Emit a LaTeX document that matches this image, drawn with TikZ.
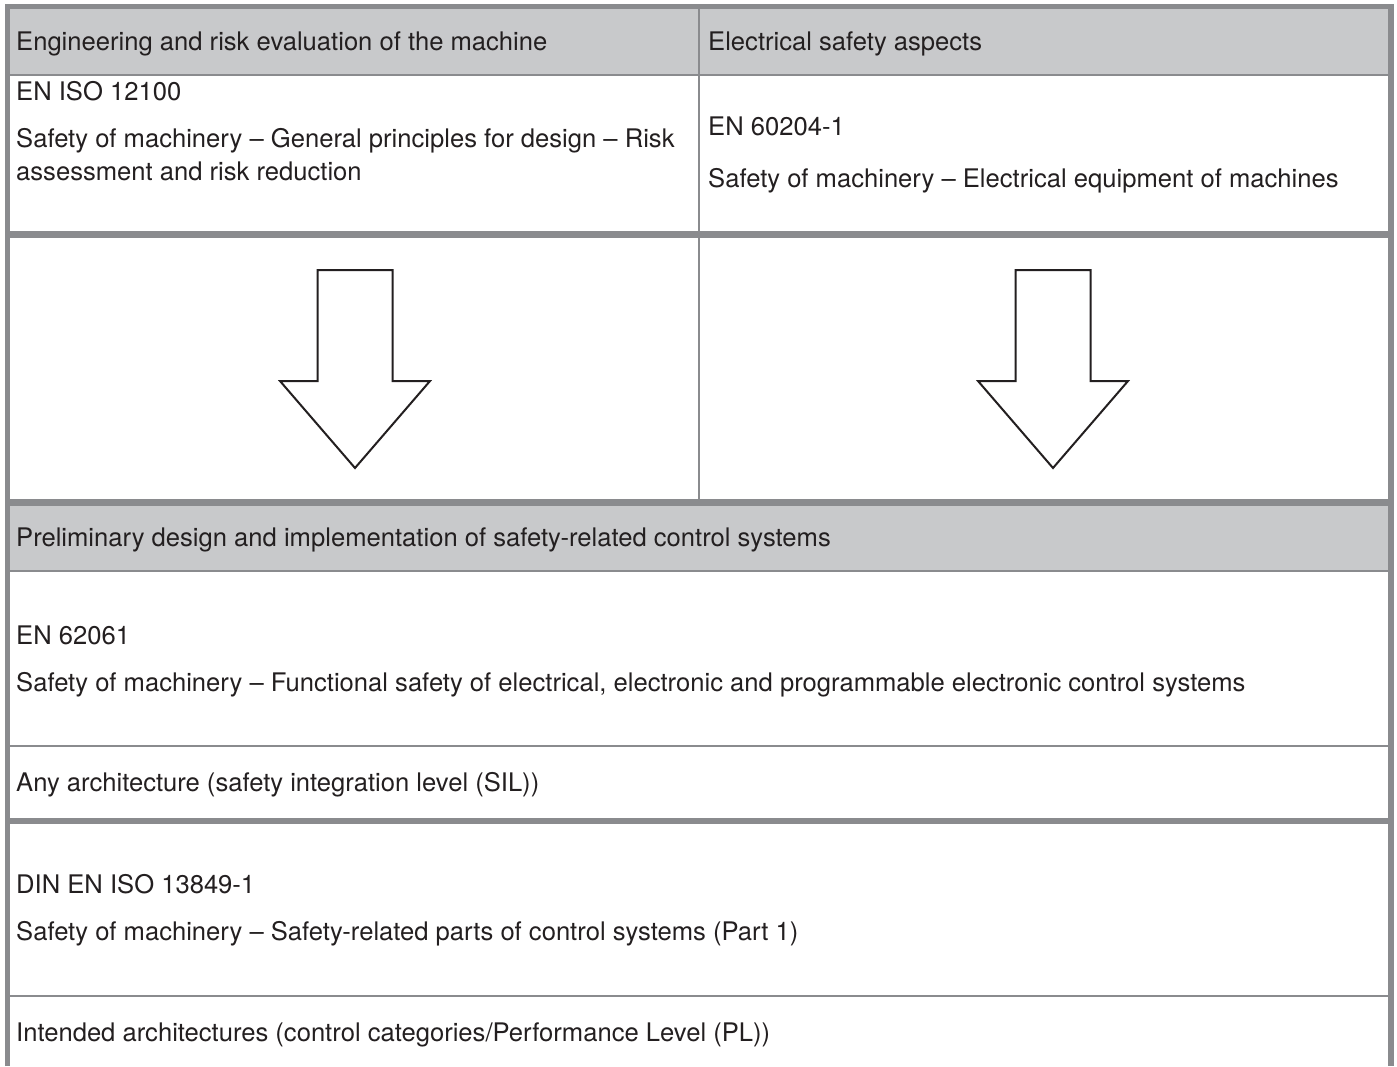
\documentclass[tikz,border=0pt]{standalone}
\usepackage{fontspec}
\setmainfont{TeX Gyre Heros}
\definecolor{rulegray}{HTML}{8A8B8E}
\definecolor{headgray}{HTML}{C8C9CB}
\definecolor{inkgray}{HTML}{231F20}
\tikzset{cell/.style = {anchor = base west, inner sep = 0pt, align = left, text = inkgray, font = \fontsize{25.6}{33}\selectfont},
	thickrule/.style = {draw = rulegray, line width = 6.5pt},
	thinrule/.style = {draw = rulegray, line width = 2pt},
	frame/.style = {draw = rulegray, line width = 5.5pt},
	blockarrow/.style = {draw = inkgray, line width = 2pt, fill = white, line join = miter}}

\begin{document}
\begin{tikzpicture}[x = 1pt, y = -1pt]
	
	\useasboundingbox (0, 0) rectangle (1397, 1066);
	
	\fill[headgray] (10, 9) rectangle (1388, 74);
	\fill[headgray] (10, 506) rectangle (1388, 570);
	
	\draw[thinrule] (10, 75) -- (1388, 75);
	\draw[thinrule] (699, 9) -- (699, 499);
	\draw[thickrule] (10, 234.5) -- (1388, 234.5);
	\draw[thickrule] (10, 502.5) -- (1388, 502.5);
	\draw[thinrule] (10, 571) -- (1388, 571);
	\draw[thinrule] (10, 746) -- (1388, 746);
	\draw[thickrule] (10, 821) -- (1388, 821);
	\draw[thinrule] (10, 996) -- (1388, 996);
	
	\draw[frame] (7.5, 1066) -- (7.5, 6.5) -- (1391, 6.5) -- (1391, 1066);
	
	\foreach \cx in {355, 1053}
		\draw[blockarrow] (\cx - 37.5, 270) -- (\cx + 37.5, 270) -- (\cx + 37.5, 381) -- (\cx + 75, 381)
			-- (\cx, 468) -- (\cx - 75, 381) -- (\cx - 37.5, 381) -- cycle;
	
	\node[cell] (eng) at (16, 50) {Engineering and risk evaluation of the machine};
	\node[cell] (elec) at (708, 50) {Electrical safety aspects};
	
	\node[cell] (iso12100) at (16, 100) {EN ISO 12100};
	% multi-line node: base is the last line
	\node[cell] (isotitle) at (16, 180) {Safety of machinery – General principles for design – Risk\\assessment and risk reduction};
	\node[cell] (en60204) at (708, 135) {EN 60204-1};
	\node[cell] (entitle) at (708, 187) {Safety of machinery – Electrical equipment of machines};
	
	\node[cell] (prelim) at (16, 546) {Preliminary design and implementation of safety-related control systems};
	
	\node[cell] (en62061) at (16, 644) {EN 62061};
	\node[cell] (functitle) at (16, 691) {Safety of machinery – Functional safety of electrical, electronic and programmable electronic control systems};
	\node[cell] (sil) at (16, 791) {Any architecture (safety integration level (SIL))};
	
	\node[cell] (din13849) at (16, 893) {DIN EN ISO 13849-1};
	\node[cell] (partstitle) at (16, 940) {Safety of machinery – Safety-related parts of control systems (Part 1)};
	\node[cell] (pl) at (16, 1041) {Intended architectures (control categories/Performance Level (PL))};
	
\end{tikzpicture}
\end{document}
